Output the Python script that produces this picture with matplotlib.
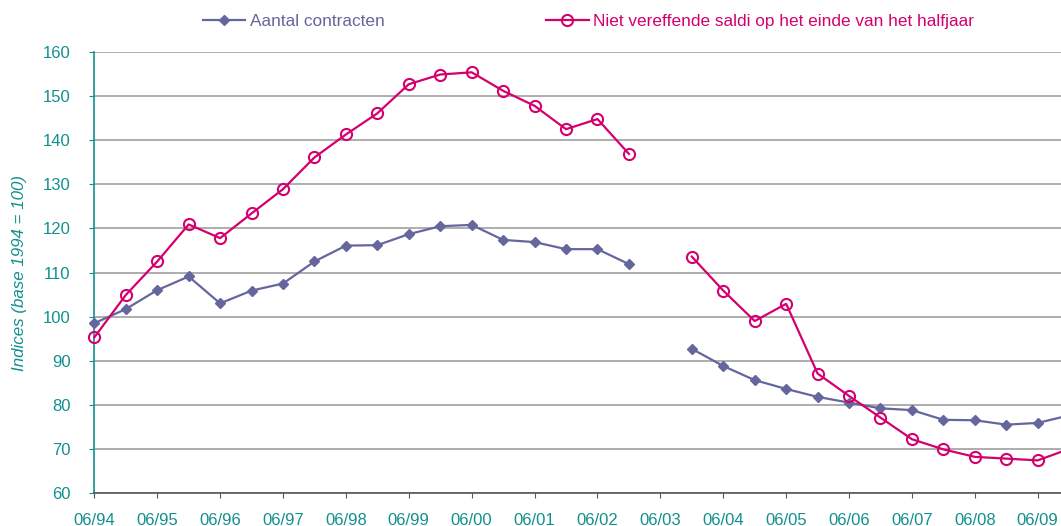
import matplotlib.pyplot as plt
import numpy as np

plt.rcParams['font.family'] = ['Liberation Sans', 'DejaVu Sans']

TEAL = '#12908c'
PURPLE = '#66669e'
RED = '#d4006e'
GRID = '#a0a0a0'

# half-year points 06/94, 12/94, ... 12/09 (06/03 missing)
contracts = [98.5, 101.7, 106.0, 109.1, 103.0, 105.9, 107.5, 112.5, 116.1, 116.2,
             118.7, 120.5, 120.8, 117.4, 116.9, 115.3, 115.3, 111.9, None, 92.7,
             88.8, 85.6, 83.6, 81.8, 80.5, 79.2, 78.8, 76.6, 76.5, 75.5,
             75.9, 77.6]
balances = [95.3, 104.9, 112.5, 120.9, 117.8, 123.4, 128.9, 136.1, 141.3, 146.1,
            152.7, 154.9, 155.4, 151.2, 147.8, 142.5, 144.8, 136.9, None, 113.6,
            105.9, 99.0, 102.9, 87.1, 82.0, 77.1, 72.2, 69.9, 68.2, 67.8,
            67.4, 70.0]
tick_labels = ['06/%02d' % (y % 100) for y in range(94, 110)]


def main():
    fig = plt.figure(figsize=(10.61, 5.26), dpi=100)
    ax = fig.add_axes([0.0889, 0.0627, 0.9111, 0.8384])

    x = np.arange(len(contracts))
    c = np.array([np.nan if v is None else v for v in contracts])
    b = np.array([np.nan if v is None else v for v in balances])

    ax.plot(x, c, color=PURPLE, lw=1.6, marker='D', markersize=5.5,
            label='Aantal contracten', clip_on=False, zorder=3)
    ax.plot(x, b, color=RED, lw=1.6, marker='o', markersize=8,
            markerfacecolor='none', markeredgewidth=1.5,
            label='Niet vereffende saldi op het einde van het halfjaar',
            clip_on=False, zorder=4)

    ax.set_xlim(0, 30.74)
    ax.set_ylim(60, 160)
    ax.set_yticks(range(60, 161, 10))
    ax.set_xticks(range(0, 31, 2))
    ax.set_xticklabels(tick_labels)
    ax.tick_params(axis='x', colors='#555555', labelcolor=TEAL,
                   labelsize=12, direction='out', length=3.6, pad=10.5)
    ax.tick_params(axis='y', colors=TEAL, labelcolor=TEAL,
                   labelsize=12, direction='out', length=3.6, pad=13.5)
    ax.yaxis.grid(True, color=GRID, lw=1.2)
    ax.set_axisbelow(True)
    for s in ['top', 'right']:
        ax.spines[s].set_visible(False)
    ax.spines['left'].set_color(TEAL)
    ax.spines['left'].set_linewidth(1.2)
    ax.spines['bottom'].set_color('#555555')
    ax.spines['bottom'].set_linewidth(1.2)

    ax.set_ylabel('Indices (base 1994 = 100)', color=TEAL, fontsize=12.2,
                  style='italic', labelpad=11)

    leg = fig.legend(loc='center', bbox_to_anchor=(0.5547, 0.959), ncol=2,
                     frameon=False, fontsize=12.4, handlelength=2.45,
                     handletextpad=0.25, columnspacing=9.4)
    for t, col in zip(leg.get_texts(), [PURPLE, RED]):
        t.set_color(col)

    fig.savefig('out.png', dpi=100)


if __name__ == '__main__':
    main()
